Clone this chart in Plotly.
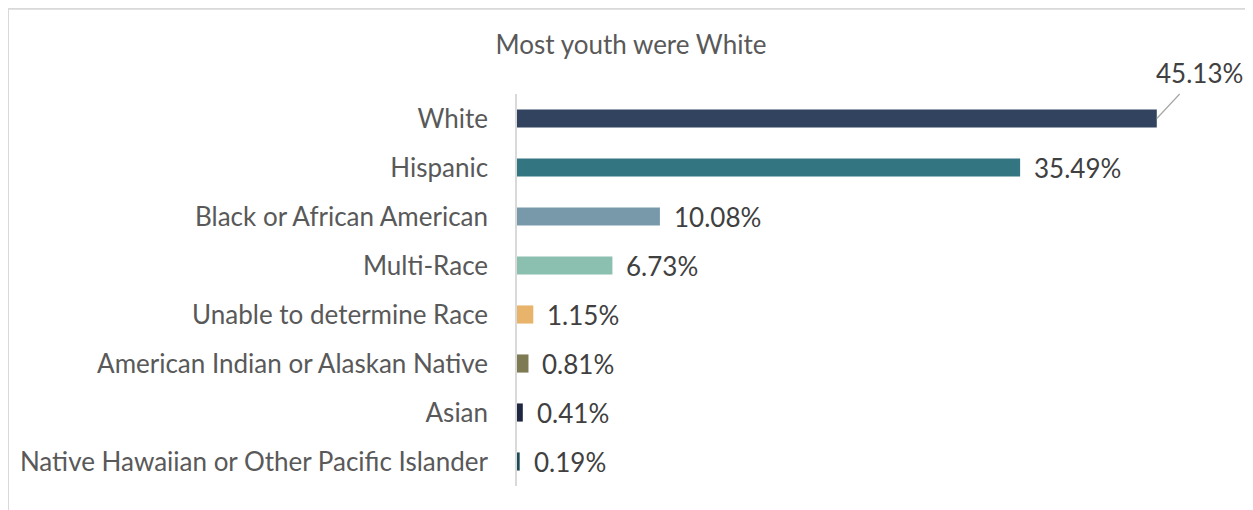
import plotly.graph_objects as go

# Race / ethnicity breakdown of youth
categories = ["White", "Hispanic", "Black or African American", "Multi-Race",
              "Unable to determine Race", "American Indian or Alaskan Native",
              "Asian", "Native Hawaiian or Other Pacific Islander"]
percents = [45.13, 35.49, 10.08, 6.73, 1.15, 0.81, 0.41, 0.19]
bar_colors = ["#31435f", "#347582", "#7799a9", "#8bbfb0",
              "#e8b46c", "#7e7a54", "#1f2840", "#1d4c58"]

FONT = "Lato"
LABEL_GRAY = "#595959"
VALUE_GRAY = "#404040"
FSIZE = 26

fig = go.Figure()
fig.add_trace(go.Bar(
    x=percents, y=categories, orientation="h",
    marker=dict(color=bar_colors, line=dict(width=0)),
    width=0.37, hoverinfo="skip",
))

# value labels: first one is pulled out with a leader line like in Excel
annotations = []
for i, (cat, val) in enumerate(zip(categories, percents)):
    text = f"{val:.2f}%"
    if i == 0:
        annotations.append(dict(
            x=val, y=cat, xref="x", yref="y", text=text,
            showarrow=True, arrowhead=0, arrowwidth=1.2, arrowcolor="#a6a6a6",
            ax=43, ay=-46, borderpad=5, standoff=0,
            font=dict(family=FONT, size=FSIZE, color=VALUE_GRAY),
        ))
    else:
        annotations.append(dict(
            x=val, y=cat, xref="x", yref="y", text=text,
            showarrow=False, xanchor="left", yanchor="middle", xshift=12,
            font=dict(family=FONT, size=FSIZE, color=VALUE_GRAY),
        ))

# page has an 8px body margin, so the figure is 8px smaller than the window
W, H = 1245, 502
L, R, T, B = 509, 13, 85.5, 23.5
pw, ph = W - L - R, H - T - B

fig.update_layout(
    width=W, height=H,
    margin=dict(l=L, r=R, t=T, b=B),
    paper_bgcolor="white", plot_bgcolor="white",
    title=dict(text="Most youth were White", x=623 / W, xref="container",
               xanchor="center", y=1 - 37 / H, yref="container",
               yanchor="middle",
               font=dict(family=FONT, size=FSIZE, color=LABEL_GRAY)),
    xaxis=dict(range=[0, 51], visible=False, fixedrange=True),
    yaxis=dict(autorange="reversed", showline=True, linecolor="#d9d9d9",
               linewidth=1.5, ticks="", showgrid=False, ticklabelstandoff=22,
               tickfont=dict(family=FONT, size=FSIZE, color=LABEL_GRAY)),
    showlegend=False,
    annotations=annotations,
    shapes=[dict(type="rect", xref="paper", yref="paper",
                 x0=(0 - L) / pw, x1=2, y0=-1, y1=(H - B) / ph,
                 line=dict(color="#d9d9d9", width=2), layer="below")],
)

fig.write_html("out.html")
